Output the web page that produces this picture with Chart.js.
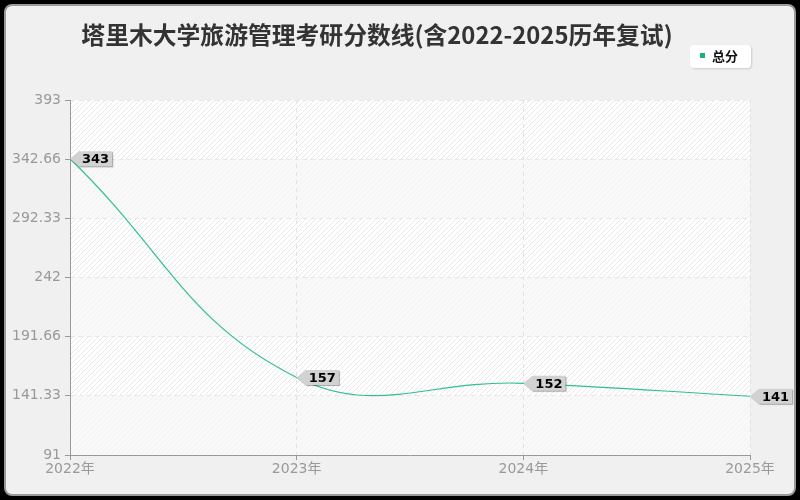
<!DOCTYPE html>
<html>
<head>
<meta charset="utf-8">
<script src="https://cdn.jsdelivr.net/npm/chart.js@4"></script>
<style>
  html, body { margin: 0; padding: 0; background: #000; }
  #wrap { position: relative; width: 800px; height: 500px; overflow: hidden; }
  #frame {
    position: absolute; left: 4px; top: 4px; width: 788px; height: 488px;
    border: 2px solid #9a9a9a; border-radius: 8px; background: #f0f0f0;
  }
  #chart { position: absolute; left: 0; top: 0; }
</style>
</head>
<body>
<div id="wrap">
  <div id="frame"></div>
  <canvas id="chart" width="800" height="500"></canvas>
</div>
<script>
// data
var years = ['2022年', '2023年', '2024年', '2025年'];
var totalScores = [343, 157, 152, 141];
var yTicks = [91, 141.33, 191.66, 242, 292.33, 342.66, 393];
var chartTitle = '塔里木大学旅游管理考研分数线(含2022-2025历年复试)';
var seriesName = '总分';

var lineColor = '#2fc08f';
var cjk = '"DejaVu Sans", "Noto Sans CJK SC", sans-serif';

function makeHatch(bg, fg) {
  var c = document.createElement('canvas');
  c.width = 5; c.height = 5;
  var g = c.getContext('2d');
  g.fillStyle = bg;
  g.fillRect(0, 0, 5, 5);
  g.strokeStyle = fg;
  g.lineWidth = 1;
  g.beginPath();
  g.moveTo(-1, 6); g.lineTo(6, -1);
  g.moveTo(-1, 1); g.lineTo(1, -1);
  g.moveTo(4, 6); g.lineTo(6, 4);
  g.stroke();
  return c;
}

var bandsPlugin = {
  id: 'bands',
  beforeDraw: function(chart) {
    var ctx = chart.ctx, area = chart.chartArea, y = chart.scales.y;
    var dark = ctx.createPattern(makeHatch('#ffffff', '#e9e9e9'), 'repeat');
    var light = ctx.createPattern(makeHatch('#f9f9f9', '#f2f2f2'), 'repeat');
    ctx.save();
    for (var i = yTicks.length - 1; i > 0; i--) {
      var top = y.getPixelForValue(yTicks[i]);
      var bot = y.getPixelForValue(yTicks[i - 1]);
      ctx.fillStyle = ((yTicks.length - 1 - i) % 2 === 0) ? dark : light;
      ctx.fillRect(area.left, top, area.right - area.left, bot - top);
    }
    ctx.restore();
  }
};

var decorPlugin = {
  id: 'decor',
  afterDraw: function(chart) {
    var ctx = chart.ctx;
    ctx.save();
    // title
    ctx.fillStyle = '#333';
    ctx.font = 'bold 23.8px "Noto Sans CJK SC", sans-serif';
    ctx.textAlign = 'center';
    ctx.textBaseline = 'middle';
    ctx.fillText(chartTitle, 377, 35);

    // legend box
    ctx.shadowColor = 'rgba(0,0,0,0.15)';
    ctx.shadowBlur = 2;
    ctx.shadowOffsetX = 1;
    ctx.shadowOffsetY = 1;
    ctx.fillStyle = '#fff';
    ctx.beginPath();
    ctx.roundRect(690, 45, 61, 23, 4);
    ctx.fill();
    ctx.shadowColor = 'transparent';
    ctx.fillStyle = '#1db07c';
    ctx.fillRect(700, 53, 5, 5);
    ctx.fillStyle = '#111';
    ctx.font = 'bold 13px "Noto Sans CJK SC", sans-serif';
    ctx.textAlign = 'left';
    ctx.fillText(seriesName, 712, 56);

    // value tags
    var meta = chart.getDatasetMeta(0);
    ctx.font = 'bold 13px "DejaVu Sans", sans-serif';
    meta.data.forEach(function(pt, i) {
      var px = pt.x, py = pt.y;
      var txt = String(totalScores[i]);
      var w = ctx.measureText(txt).width + 6;
      var h = 15, a = 9;
      ctx.save();
      ctx.shadowColor = 'rgba(0,0,0,0.35)';
      ctx.shadowBlur = 1;
      ctx.shadowOffsetX = 1;
      ctx.shadowOffsetY = 1;
      ctx.fillStyle = '#d2d2d2';
      ctx.beginPath();
      ctx.moveTo(px, py);
      ctx.lineTo(px + a, py - h / 2);
      ctx.lineTo(px + a + w, py - h / 2);
      ctx.lineTo(px + a + w, py + h / 2);
      ctx.lineTo(px + a, py + h / 2);
      ctx.closePath();
      ctx.fill();
      ctx.restore();
      ctx.fillStyle = '#000';
      ctx.textBaseline = 'middle';
      ctx.fillText(txt, px + a + 3, py + 1);
    });
    ctx.restore();
  }
};

new Chart(document.getElementById('chart'), {
  type: 'line',
  data: {
    labels: years,
    datasets: [{
      label: seriesName,
      data: totalScores,
      borderColor: lineColor,
      borderWidth: 1.2,
      tension: 0.42,
      pointRadius: 0,
      fill: false
    }]
  },
  options: {
    responsive: false,
    animation: false,
    layout: { padding: { top: 100, right: 50, left: 0, bottom: 0 } },
    plugins: {
      legend: { display: false },
      title: { display: false },
      tooltip: { enabled: false }
    },
    scales: {
      x: {
        offset: false,
        afterFit: function(s) { s.height = 45; },
        border: { color: '#999', width: 1, dash: [4, 4] },
        grid: {
          color: '#e2e2e2', tickColor: '#999',
          tickLength: 5, tickBorderDash: []
        },
        ticks: { color: '#999', font: { size: 14, family: cjk }, padding: 1, maxRotation: 0 }
      },
      y: {
        min: 91,
        max: 393,
        afterBuildTicks: function(s) {
          s.ticks = yTicks.map(function(v) { return { value: v }; });
        },
        afterFit: function(s) { s.width = 70; },
        border: { color: '#999', width: 1, dash: [4, 4] },
        grid: {
          color: '#e6e6e6', tickColor: '#999',
          tickLength: 5, tickBorderDash: []
        },
        ticks: {
          color: '#999', font: { size: 14, family: cjk }, padding: 4,
          callback: function(v) { return String(v); }
        }
      }
    }
  },
  plugins: [bandsPlugin, decorPlugin]
});
</script>
</body>
</html>
